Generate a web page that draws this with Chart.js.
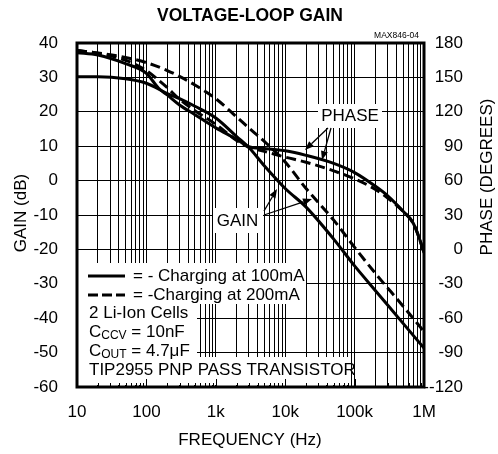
<!DOCTYPE html>
<html>
<head>
<meta charset="utf-8">
<script src="https://cdn.jsdelivr.net/npm/chart.js@4.4.1/dist/chart.umd.min.js"></script>
<style>
  body { margin: 0; background: #fff; }
  #wrap { width: 498px; height: 454px; }
</style>
</head>
<body>
<div id="wrap"><canvas id="loopGain" width="498" height="454"></canvas></div>
<script>
const gainFreq = [10, 20, 50, 100, 200, 300, 500, 1e3, 2e3, 3e3, 5e3, 1e4, 2e4, 5e4, 1e5, 2e5, 5e5, 1e6];
const gain100mA = [30.2, 30.2, 29.6, 28.3, 25.3, 23.8, 21.6, 18.2, 12.8, 9.6, 4.3, -2.3, -7.7, -17, -24.8, -32, -41.5, -48.7];
const gain200mA = [37.8, 37.1, 35.8, 34.3, 32, 30.3, 27.8, 23.8, 18.5, 15.3, 11.4, 5.4, -2.3, -11.5, -19.4, -27, -36.5, -43.9];

const phaseFreq = [10, 20, 50, 100, 150, 200, 300, 500, 1e3, 2e3, 3e3, 5e3, 1e4, 2e4, 5e4, 1e5, 2e5, 3e5, 5e5, 7e5, 8.7e5, 1e6];
const phase100mA = [171.6, 169.5, 162, 153.6, 140.5, 134.7, 126, 117.5, 106, 96, 89.5, 88, 86, 82, 75, 67, 55, 46.7, 33.2, 22.8, 8.5, -3];
const phase200mA = [173.4, 171, 165, 156, 147.5, 141, 131, 121, 109, 95, 89, 85.5, 80.5, 76, 68.5, 61.5, 52.3, 44.8, 33.2, 22.8, 8.5, -3];

const decades = [10, 100, 1e3, 1e4, 1e5, 1e6];
const freqLabels = ['10', '100', '1k', '10k', '100k', '1M'];
const phaseLabels = ['180', '150', '120', '90', '60', '30', '0', '-30', '-60', '-90', '--120'];

const FONT = "'Liberation Sans', Arial, sans-serif";
const FS = 17;

// every 1..9 step inside each decade
const freqTicks = [];
decades.slice(0, -1).forEach(d => { for (let k = 1; k < 10; k++) freqTicks.push(k * d); });
freqTicks.push(1e6);

const toPoints = (xs, ys) => xs.map((x, i) => ({x: x, y: ys[i]}));

function line(ctx, x0, y0, x1, y1) {
  ctx.beginPath(); ctx.moveTo(x0, y0); ctx.lineTo(x1, y1); ctx.stroke();
}
function text(ctx, s, x, y, size, align, weight) {
  ctx.font = (weight || '') + ' ' + size + 'px ' + FONT;
  ctx.textAlign = align || 'left';
  ctx.textBaseline = 'middle';
  ctx.fillText(s, x, y);
  return ctx.measureText(s).width;
}
function arrow(ctx, x0, y0, x1, y1) {
  const ang = Math.atan2(y1 - y0, x1 - x0);
  const hl = 9, hw = 3.5;
  const bx = x1 - hl * Math.cos(ang), by = y1 - hl * Math.sin(ang);
  ctx.lineWidth = 1.3;
  line(ctx, x0, y0, bx, by);
  ctx.beginPath();
  ctx.moveTo(x1, y1);
  ctx.lineTo(bx + hw * Math.sin(ang), by - hw * Math.cos(ang));
  ctx.lineTo(bx - hw * Math.sin(ang), by + hw * Math.cos(ang));
  ctx.closePath();
  ctx.fill();
}
// "C" with a subscript, then the rest
function subText(ctx, main, sub, rest, x, y) {
  let w = text(ctx, main, x, y, FS);
  w += text(ctx, sub, x + w, y + 4, 12);
  text(ctx, rest, x + w, y, FS);
}

// white boxes behind the notes (they hide the grid)
const maskBoxes = [
  [78, 263, 306, 304],
  [78, 304, 197, 358],
  [78, 357, 349, 385],
  [213, 208, 263, 233],
  [318, 104, 382, 128]
];

const decor = {
  id: 'decor',
  beforeDatasetsDraw(chart) {
    const {ctx, chartArea: a, scales} = chart;
    ctx.save();
    ctx.fillStyle = '#fff';
    maskBoxes.forEach(b => ctx.fillRect(b[0], b[1], b[2] - b[0], b[3] - b[1]));

    // small ticks along the bottom edge
    ctx.strokeStyle = '#000';
    ctx.lineWidth = 1;
    freqTicks.forEach(v => {
      const px = Math.round(scales.x.getPixelForValue(v)) + 0.5;
      line(ctx, px, a.bottom, px, a.bottom - (decades.includes(v) ? 8 : 4));
    });

    ctx.fillStyle = '#000';
    // legend samples
    ctx.lineWidth = 3;
    line(ctx, 88, 276, 125, 276);
    ctx.setLineDash([10, 4]);
    line(ctx, 88, 295, 125, 295);
    ctx.setLineDash([]);
    text(ctx, '= - Charging at 100mA', 133, 276, FS);
    text(ctx, '= -Charging at 200mA', 133, 295, FS);
    text(ctx, '2 Li-Ion Cells', 89, 313, FS);
    subText(ctx, 'C', 'CCV', ' = 10nF', 89, 332);
    subText(ctx, 'C', 'OUT', ' = 4.7\u03bcF', 89, 351);
    text(ctx, 'TIP2955 PNP PASS TRANSISTOR', 89, 370, FS);

    text(ctx, 'PHASE', 350, 116, FS, 'center');
    text(ctx, 'GAIN', 237.5, 221, FS, 'center');
    ctx.restore();
  },
  afterDatasetsDraw(chart) {
    const {ctx, chartArea: a} = chart;
    ctx.save();
    ctx.strokeStyle = '#000';
    ctx.fillStyle = '#000';
    ctx.lineWidth = 3;
    ctx.strokeRect(a.left, a.top, a.right - a.left, a.bottom - a.top);
    arrow(ctx, 328, 128, 305, 150);
    arrow(ctx, 331, 128, 322, 160);
    arrow(ctx, 264, 211, 277, 189);
    arrow(ctx, 264, 215, 312, 199);
    ctx.restore();
  },
  afterDraw(chart) {
    const {ctx} = chart;
    ctx.save();
    ctx.fillStyle = '#000';
    text(ctx, 'VOLTAGE-LOOP GAIN', 250, 16, 17.5, 'center', 'bold');
    text(ctx, 'MAX846-04', 419, 36, 8.5, 'right');
    text(ctx, 'FREQUENCY (Hz)', 250, 440, FS, 'center');
    ctx.translate(21.5, 213);
    ctx.rotate(-Math.PI / 2);
    text(ctx, 'GAIN (dB)', 0, 0, FS, 'center');
    ctx.restore();
    ctx.save();
    ctx.fillStyle = '#000';
    ctx.translate(487, 177);
    ctx.rotate(-Math.PI / 2);
    text(ctx, 'PHASE (DEGREES)', 0, 0, FS, 'center');
    ctx.restore();
  }
};

const curve = {
  borderColor: '#000',
  borderWidth: 3,
  pointRadius: 0,
  fill: false,
  cubicInterpolationMode: 'monotone'
};

new Chart(document.getElementById('loopGain'), {
  type: 'line',
  data: {
    datasets: [
      Object.assign({label: 'Gain 100mA', data: toPoints(gainFreq, gain100mA), yAxisID: 'y'}, curve),
      Object.assign({label: 'Gain 200mA', data: toPoints(gainFreq, gain200mA), yAxisID: 'y', borderDash: [10, 5]}, curve),
      Object.assign({label: 'Phase 100mA', data: toPoints(phaseFreq, phase100mA), yAxisID: 'y2'}, curve),
      Object.assign({label: 'Phase 200mA', data: toPoints(phaseFreq, phase200mA), yAxisID: 'y2', borderDash: [10, 5]}, curve)
    ]
  },
  options: {
    responsive: false,
    animation: false,
    events: [],
    layout: {padding: {top: 43, left: 0, right: 35, bottom: 0}},
    plugins: {legend: {display: false}, tooltip: {enabled: false}, title: {display: false}},
    scales: {
      x: {
        type: 'logarithmic',
        min: 10,
        max: 1e6,
        border: {display: false},
        grid: {color: '#000', lineWidth: 1, drawTicks: false},
        afterBuildTicks: s => { s.ticks = freqTicks.map(v => ({value: v})); },
        afterFit: s => { s.height = 67; },
        ticks: {
          autoSkip: false,
          maxRotation: 0,
          minRotation: 0,
          padding: 15,
          color: '#000',
          font: {family: FONT, size: FS},
          callback: v => {
            const i = decades.indexOf(v);
            return i >= 0 ? freqLabels[i] : '';
          }
        }
      },
      y: {
        position: 'left',
        min: -60,
        max: 40,
        border: {display: false},
        grid: {color: '#000', lineWidth: 1, drawTicks: false},
        afterFit: s => { s.width = 77; },
        ticks: {stepSize: 10, padding: 19, color: '#000', font: {family: FONT, size: FS}}
      },
      y2: {
        position: 'right',
        min: -120,
        max: 180,
        border: {display: false},
        grid: {display: false, drawTicks: false},
        afterFit: s => { s.width = 39; },
        ticks: {
          stepSize: 30,
          padding: 0,
          crossAlign: 'far',
          color: '#000',
          font: {family: FONT, size: FS},
          callback: v => phaseLabels[(180 - v) / 30]
        }
      }
    }
  },
  plugins: [decor]
});
</script>
</body>
</html>
